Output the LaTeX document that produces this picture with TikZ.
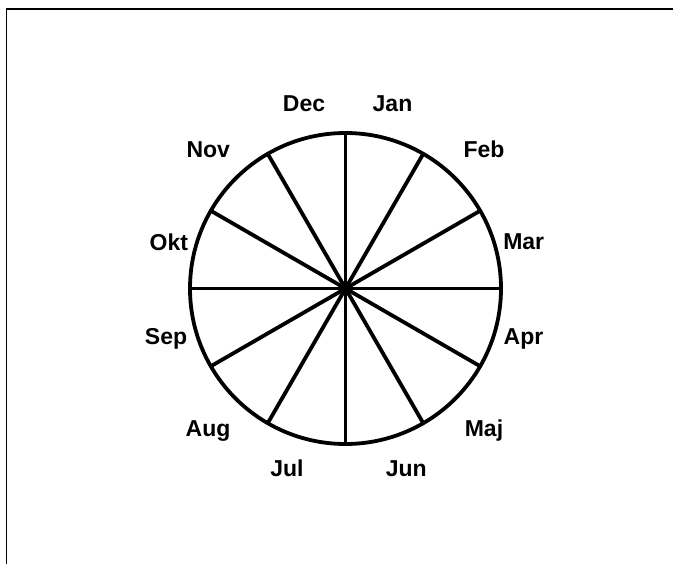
\documentclass[tikz,border=0pt]{standalone}
\usepackage{fontspec}
\setmainfont{Liberation Sans}
\usetikzlibrary{calc}
\begin{document}
\begin{tikzpicture}[x=1bp,y=-1bp,
  wheel/.style={line width=3.8bp,black},
  month/.style={anchor=base,inner sep=0pt,font=\fontsize{23bp}{27bp}\selectfont\bfseries},
  frame/.style={line width=1.4bp,black}]
\useasboundingbox (0,0) rectangle (673,564);
\draw[frame] (673,9) -- (6.5,9) -- (6.5,564);
\coordinate (O) at (345.5,288.5);
\draw[wheel] (O) circle[radius=155.5bp];
\foreach \a in {0,30,...,150}{
  \coordinate (p\a) at ($(O)+(\a:155.5bp)$);
  \coordinate (q\a) at ($(O)+(\a+180:155.5bp)$);
  \draw[wheel] (p\a) -- (q\a);
}
\node[month] (jan) at (392.5,111.7) {Jan};
\node[month] (feb) at (484,157.7) {Feb};
\node[month] (mar) at (523.7,249) {Mar};
\node[month] (apr) at (523.5,344.3) {Apr};
\node[month] (maj) at (484,436) {Maj};
\node[month] (jun) at (406.3,476.7) {Jun};
\node[month] (jul) at (287,476.7) {Jul};
\node[month] (aug) at (208,436) {Aug};
\node[month] (sep) at (166,344.3) {Sep};
\node[month] (okt) at (168.8,250) {Okt};
\node[month] (nov) at (208.3,157.7) {Nov};
\node[month] (dec) at (304,111.7) {Dec};
\end{tikzpicture}
\end{document}
